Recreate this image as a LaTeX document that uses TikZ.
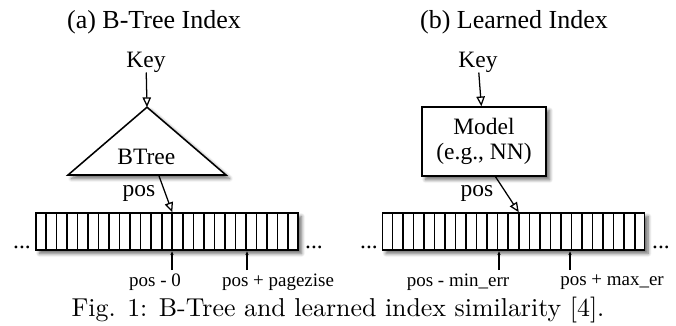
\documentclass[tikz,border=0pt]{standalone}
\usepackage{fontspec}
\newfontfamily\figfont{Liberation Serif}
\usetikzlibrary{arrows.meta, calc, shadows.blur}

\begin{document}
\begin{tikzpicture}[
  heading/.style={font=\figfont\fontsize{18.5}{21}\selectfont, inner sep=0pt},
  lbl/.style={font=\figfont\fontsize{16.7}{18}\selectfont, inner sep=0pt},
  rangelbl/.style={font=\figfont\fontsize{13.5}{16}\selectfont, inner sep=0pt},
  dropshadow/.style={blur shadow={shadow xshift=2.5pt, shadow yshift=-2.5pt, shadow blur radius=2.5pt, shadow blur steps=8, shadow opacity=60}},
  cellrow/.style={draw, line width=1.1pt, fill=white, minimum width=6.55cm, minimum height=0.925cm, inner sep=0pt, dropshadow},
  modelbox/.style={draw, line width=1.1pt, fill=white, minimum width=3.1cm, minimum height=1.725cm, align=center, dropshadow, font=\figfont\fontsize{16.7}{17.8}\selectfont},
  arrow/.style={-{Triangle[open, length=7pt, width=6pt]}, line width=0.9pt},
  tickarrow/.style={-{Latex[length=3pt, width=2.5pt]}, line width=0.9pt}
]
\useasboundingbox (0,0) rectangle (16.9,-8.15);

% titles
\node[heading] (titleA) at (3.85, -0.55) {(a) B-Tree Index};
\node[heading] (titleB) at (12.85, -0.55) {(b) Learned Index};

% inputs
\node[lbl] (keyA) at (3.65, -1.55) {Key};
\node[lbl] (keyB) at (11.95, -1.55) {Key};

% b-tree triangle
\coordinate (apex) at (3.675, -2.68);
\coordinate (baseL) at (1.7, -4.375);
\coordinate (baseR) at (5.65, -4.375);
\draw[line width=1.1pt, fill=white, dropshadow] (apex) -- (baseL) -- (baseR) -- cycle;
\node[lbl] (btree) at (3.66, -3.93) {BTree};

% model
\node[modelbox] (model) at (12.1, -3.54) {Model\\(e.g., NN)};

\draw[arrow] (keyA) -- (apex);
\draw[arrow] (keyB) -- (model);

% sorted arrays
\node[cellrow] (arrA) at (4.175, -5.7875) {};
\node[cellrow] (arrB) at (12.8375, -5.7875) {};
\foreach \arr in {arrA, arrB}
  \foreach \i in {1,...,24}
    \draw[line width=1.1pt] ($(\arr.north west)!\i/25!(\arr.north east)$) -- ($(\arr.south west)!\i/25!(\arr.south east)$);

\node[lbl, anchor=base] (dotsA1) at (0.55, -6.2) {...};
\node[lbl, anchor=base] (dotsA2) at (7.85, -6.2) {...};
\node[lbl, anchor=base] (dotsB1) at (9.225, -6.2) {...};
\node[lbl, anchor=base] (dotsB2) at (16.525, -6.2) {...};

% predicted position
\coordinate (outA) at (3.975, -4.4);
\coordinate (hitA) at ($(arrA.north west)!13/25!(arrA.north east)$);
\coordinate (outB) at (12.375, -4.4);
\coordinate (hitB) at ($(arrB.north west)!13/25!(arrB.north east)$);
\draw[arrow] (outA) -- (hitA);
\draw[arrow] (outB) -- (hitB);
\node[lbl] (posA) at (3.475, -4.825) {pos};
\node[lbl] (posB) at (11.925, -4.825) {pos};

% search range
\coordinate (loA) at (4.3, -6.75);
\coordinate (hiA) at (6.175, -6.75);
\coordinate (loB) at (12.475, -6.75);
\coordinate (hiB) at (14.25, -6.75);
\foreach \c/\a in {loA/arrA, hiA/arrA, loB/arrB, hiB/arrB}
  \draw[tickarrow] (\c) -- (\c |- \a.south);

\node[rangelbl] (rangeA1) at (3.875, -7.05) {pos - 0};
\node[rangelbl] (rangeA2) at (6.95, -7.05) {pos + pagezise};
\node[rangelbl] (rangeB1) at (11.45, -7.05) {pos - min\_err};
\node[rangelbl] (rangeB2) at (15.3, -7.05) {pos + max\_er};

% caption
\node[font=\fontsize{10}{12}\selectfont, inner sep=0pt, scale=1.84, transform shape] (caption) at (8.45, -7.75) {Fig. 1: B-Tree and learned index similarity [4].};
\end{tikzpicture}
\end{document}
